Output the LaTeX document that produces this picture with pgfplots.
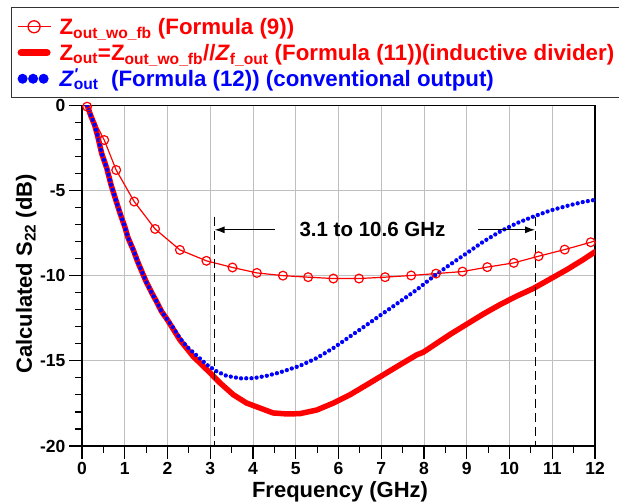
\documentclass[border=0pt]{standalone}
\usepackage{fontspec}
\setmainfont{Liberation Sans}
\usepackage{pgfplots}
\pgfplotsset{compat=1.18}
\usetikzlibrary{arrows.meta}

\newcommand{\fs}[2]{\fontsize{#1}{#2}\selectfont}

\begin{document}
\begin{tikzpicture}
\begin{axis}[
  scale only axis,
  width=513pt, height=340.7pt,
  xmin=0, xmax=12, ymin=-20, ymax=0,
  xtick={0,...,12}, minor x tick num=1,
  ytick={-20,-15,-10,-5,0}, minor y tick num=4,
  tick pos=left,
  tick align=outside,
  major tick length=13pt, minor tick length=7pt,
  every tick/.style={black, line width=1.2pt},
  axis line style={line width=1.3pt},
  grid=major,
  major grid style={black!25, line width=0.9pt},
  /pgf/number format/assume math mode=true,
  tick label style={font=\bfseries\fs{17.5}{17.5}},
  xlabel={Frequency (GHz)},
  ylabel={Calculated S\textsubscript{22} (dB)},
  label style={font=\bfseries\fs{22}{22}},
  xlabel style={at={(axis description cs:0.503,-0.1526)}, anchor=base},
  ylabel style={at={(axis description cs:-0.0975,0.505)}, anchor=base},
  legend cell align=left,
  legend style={
    at={(axis description cs:-0.1384,1.2876)}, anchor=north west,
    draw=black!80, line width=0.9pt, fill=white,
    font=\bfseries\fs{22.3}{26},
    inner xsep=5.5pt, inner ysep=6pt, row sep=0pt,
    nodes={inner sep=0pt, text height=21pt, text depth=5pt},
  },
]

% Output match without feedback, Formula (9)
\addplot[red, line width=1.2pt, mark=o, mark size=4.4pt,
  mark options={solid, line width=1.2pt},
  mark indices={1,...,22},
  legend image code/.code={
    \path[draw=none, fill=none] (0pt,-4pt) rectangle (42pt,4pt);
    \draw[red, line width=1.3pt] (0pt,0pt) -- (33pt,0pt);
    \draw[red, line width=1.3pt] (16.5pt,0pt) circle (6pt);}]
coordinates {
(0.12,-0.08) (0.52,-2.04) (0.80,-3.80) (1.22,-5.65) (1.71,-7.26)
(2.29,-8.49) (2.91,-9.13) (3.52,-9.52) (4.09,-9.84) (4.70,-10.00)
(5.29,-10.09) (5.88,-10.17) (6.48,-10.17) (7.09,-10.09) (7.70,-9.99)
(8.28,-9.88) (8.90,-9.76) (9.48,-9.50) (10.10,-9.25) (10.68,-8.86)
(11.29,-8.47) (11.90,-8.04) (12.0,-7.96)
};
\addlegendentry{\textcolor{red}{Z\textsubscript{out\_wo\_fb} (Formula (9))}}

% Inductive divider output, Formula (11)
\addplot[red, line width=5.5pt, line join=round, line cap=round,
  legend image code/.code={
    \path[draw=none, fill=none] (0pt,-4pt) rectangle (42pt,4pt);
    \draw[red, line width=7pt, line cap=round] (3.5pt,0pt) -- (29.5pt,0pt);}]
coordinates {
(0.12,0) (0.2,-0.57) (0.3,-1.19) (0.37,-1.84) (0.46,-2.82) (0.58,-3.70)
(0.68,-4.67) (0.79,-5.55) (0.89,-6.34) (1.0,-7.12) (1.08,-7.80) (1.2,-8.49)
(1.3,-9.17) (1.4,-9.76) (1.5,-10.35) (1.63,-11.0) (1.75,-11.55) (1.86,-12.1)
(2.0,-12.6) (2.29,-13.77) (2.6,-14.74) (2.92,-15.52) (3.23,-16.3)
(3.54,-16.99) (3.85,-17.48) (4.16,-17.77) (4.47,-18.06) (4.8,-18.12)
(5.1,-18.1) (5.49,-17.89) (5.88,-17.48) (6.27,-16.99) (6.66,-16.41)
(7.05,-15.82) (7.44,-15.23) (7.83,-14.65) (7.98,-14.5) (8.22,-14.1)
(8.61,-13.45) (9.0,-12.85) (9.39,-12.25) (9.78,-11.7) (10.17,-11.2)
(10.56,-10.75) (10.95,-10.2) (11.34,-9.65) (11.73,-9.05) (12,-8.6)
};
\addlegendentry{\textcolor{red}{Z\textsubscript{out}=Z\textsubscript{out\_wo\_fb}//\textit{Z}\textsubscript{f\_out} (Formula (11))(inductive divider)}}

% Conventional output, Formula (12)
\addplot[blue, line width=4.3pt, line cap=round,
  dash pattern=on 0pt off 5.2pt,
  legend image code/.code={
    \path[draw=none, fill=none] (0pt,-4pt) rectangle (42pt,4pt);
    \fill[blue, solid] (5pt,0pt) circle (2.7pt);
    \fill[blue, solid] (15.5pt,0pt) circle (2.7pt);
    \fill[blue, solid] (26pt,0pt) circle (2.7pt);}]
coordinates {
(0.12,0) (0.2,-0.57) (0.3,-1.19) (0.37,-1.84) (0.46,-2.82) (0.58,-3.70)
(0.68,-4.67) (0.79,-5.55) (0.89,-6.34) (1.0,-7.12) (1.08,-7.80) (1.2,-8.49)
(1.3,-9.17) (1.4,-9.76) (1.5,-10.35) (1.63,-11.0) (1.75,-11.55) (1.86,-12.1)
(2.0,-12.6) (2.14,-13.08) (2.29,-13.67) (2.45,-14.16) (2.68,-14.68)
(2.92,-15.23) (3.15,-15.62) (3.38,-15.88) (3.70,-16.03) (4.01,-16.02)
(4.32,-15.88) (4.63,-15.68) (5.10,-15.29) (5.49,-14.84) (5.88,-14.25)
(6.27,-13.57) (6.66,-12.89) (7.05,-12.2) (7.44,-11.52) (7.83,-10.83)
(8.22,-10.05) (8.61,-9.35) (9.0,-8.68) (9.39,-8.0) (9.78,-7.41)
(10.17,-6.92) (10.56,-6.53) (10.95,-6.18) (11.34,-5.91) (11.73,-5.67)
(12,-5.55)
};
\addlegendentry{\textcolor{blue}{\textit{Z}\rlap{\textsuperscript{\textit{′}}}\textsubscript{out}\ \ (Formula (12)) (conventional output)}}

% UWB band markers
\draw[black, line width=1.2pt, dash pattern=on 9pt off 5pt]
  (axis cs:3.1,-6.53) -- (axis cs:3.1,-20);
\draw[black, line width=1.2pt, dash pattern=on 9pt off 5pt]
  (axis cs:10.6,-6.53) -- (axis cs:10.6,-20);
\draw[black, line width=1.3pt, -{Latex[length=10pt,width=7pt]}]
  (axis cs:4.51,-7.31) -- (axis cs:3.1,-7.31);
\draw[black, line width=1.3pt, -{Latex[length=10pt,width=7pt]}]
  (axis cs:9.27,-7.31) -- (axis cs:10.6,-7.31);
\node[font=\bfseries\fs{20.5}{20.5}] at (axis cs:6.795,-7.31) {3.1 to 10.6 GHz};

\end{axis}
\pgfresetboundingbox
\useasboundingbox (-82pt,-56pt) rectangle (537pt,446pt);
\end{tikzpicture}
\end{document}
